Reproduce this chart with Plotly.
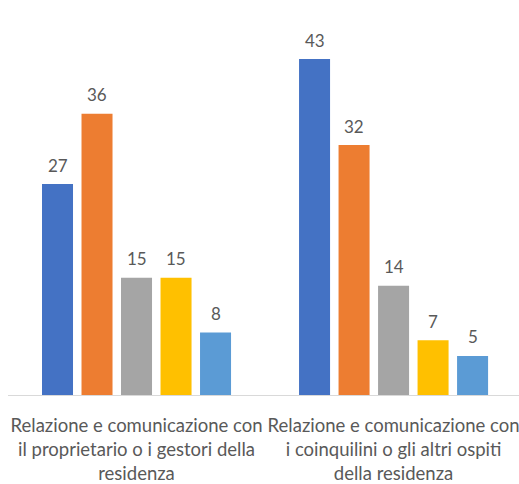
import plotly.graph_objects as go

categories = [
    "Relazione e comunicazione con<br>il proprietario o i gestori della<br>residenza",
    "Relazione e comunicazione con<br>i coinquilini o gli altri ospiti<br>della residenza",
]
series_names = ["Serie 1", "Serie 2", "Serie 3", "Serie 4", "Serie 5"]
series_values = [
    [27, 43],
    [36, 32],
    [15, 14],
    [15, 7],
    [8, 5],
]
colors = ["#4472C4", "#ED7D31", "#A5A5A5", "#FFC000", "#5B9BD5"]

BARGAP = 0.2315
GROUPGAP = 0.215
n_series = len(series_values)
slot = (1 - BARGAP) / n_series

fig = go.Figure()
annotations = []
for i, (name, vals, col) in enumerate(zip(series_names, series_values, colors)):
    fig.add_trace(go.Bar(
        name=name, x=categories, y=vals,
        marker=dict(color=col, line=dict(width=0)),
        hoverinfo="y",
    ))
    for j, v in enumerate(vals):
        annotations.append(dict(
            x=j + (i - (n_series - 1) / 2) * slot, y=v, xref="x", yref="y",
            text=str(v), showarrow=False, yanchor="middle", yshift=19,
            font=dict(family="Lato", size=17, color="#595959"),
        ))

fig.update_layout(
    width=519, height=484,
    margin=dict(l=8, r=0, t=20, b=89),
    barmode="group", bargap=BARGAP, bargroupgap=GROUPGAP,
    showlegend=False,
    plot_bgcolor="white", paper_bgcolor="white",
    font=dict(family="Lato", color="#595959"),
    annotations=annotations,
)
fig.update_xaxes(
    range=[-0.5, 1.488], automargin=False,
    showline=True, linecolor="#D9D9D9", linewidth=1,
    ticks="", tickfont=dict(family="Lato", size=18.5, color="#595959"),
    ticklabelstandoff=14,
)
fig.update_yaxes(range=[0, 48], visible=False, showgrid=False, zeroline=False)

fig.write_html(
    "out.html",
    config={"displayModeBar": False},
    post_script="document.body.style.margin='0';",
)
